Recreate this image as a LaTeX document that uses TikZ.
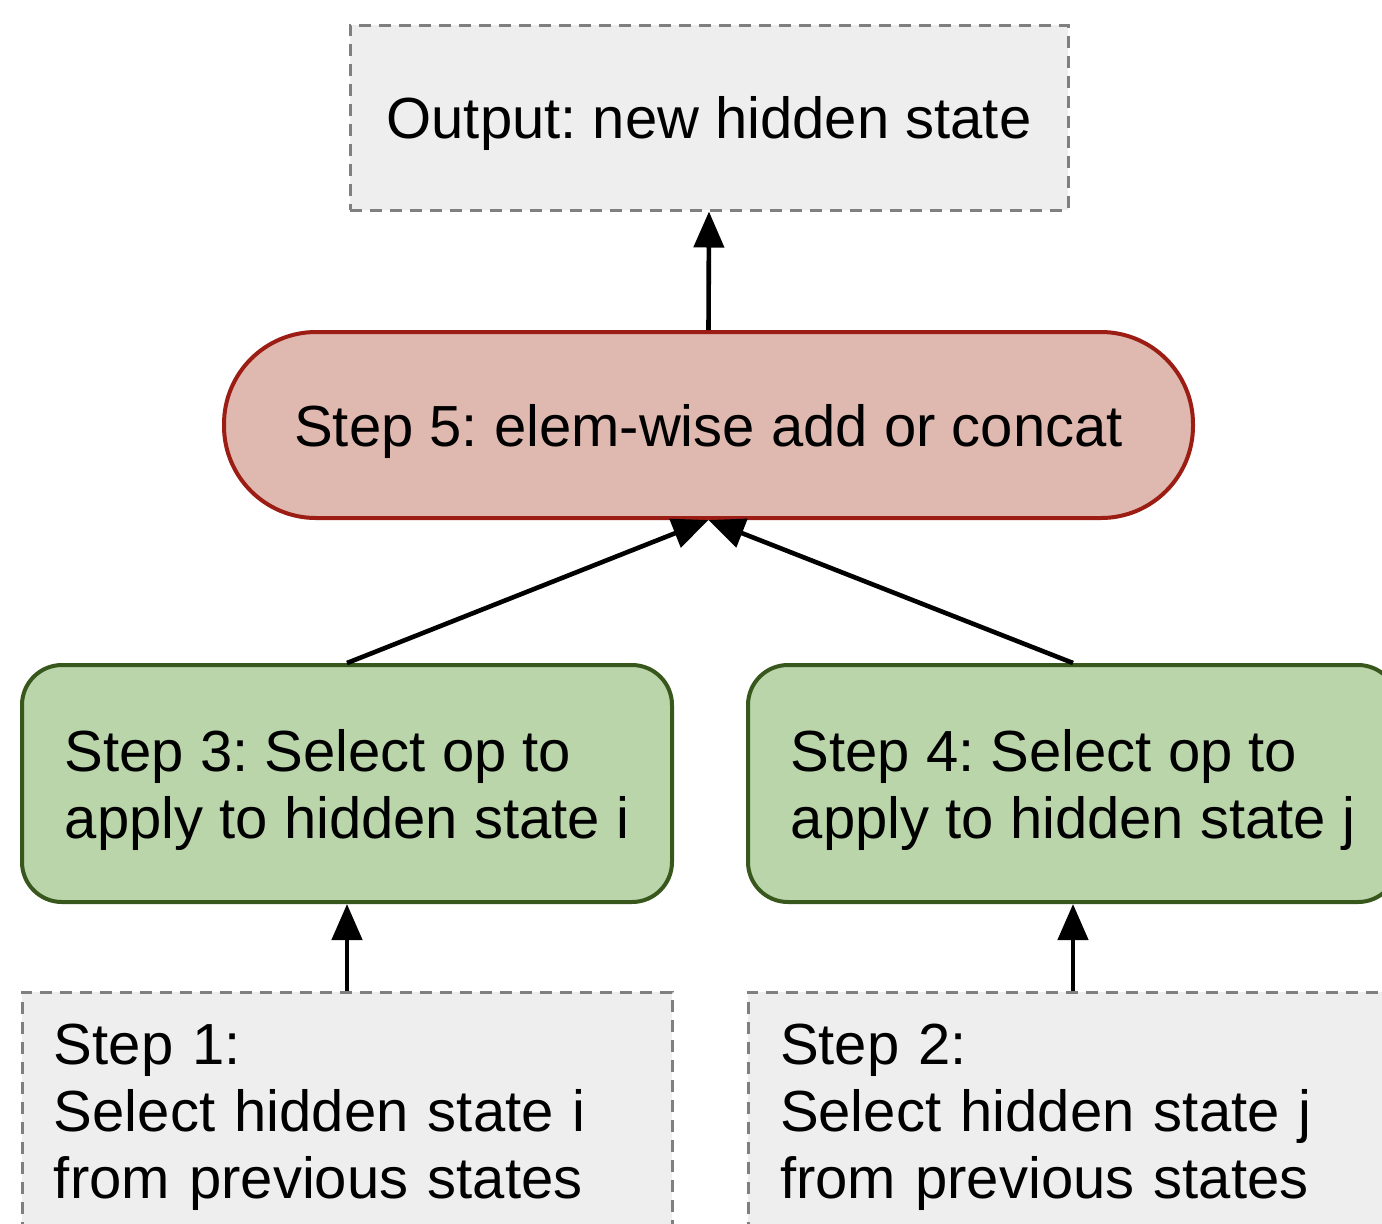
\documentclass[tikz,border=0pt]{standalone}
\usepackage{fontspec}
\setmainfont{Liberation Sans}
\usetikzlibrary{arrows.meta}

\definecolor{grayfill}{HTML}{EEEEEE}
\definecolor{grayline}{HTML}{7F7F7F}
\definecolor{redfill}{HTML}{DFB8AF}
\definecolor{redline}{HTML}{9B1D14}
\definecolor{greenfill}{HTML}{B9D5A9}
\definecolor{greenline}{HTML}{38571C}

\tikzset{
  every node/.style={font=\fontsize{29}{33.5}\selectfont\frenchspacing,
    text=black},
  dashbox/.style={draw=grayline, fill=grayfill, line width=1.5pt,
    dash pattern=on 6pt off 4pt, rectangle, inner sep=0pt},
  addbox/.style={draw=redline, fill=redfill, line width=2pt,
    rectangle, rounded corners=46pt, inner sep=0pt, text depth=0pt},
  opbox/.style={draw=greenline, fill=greenfill, line width=2pt,
    rectangle, rounded corners=20pt, inner sep=0pt, text depth=0pt,
    minimum width=325pt, minimum height=118.5pt, align=left},
  statebox/.style={dashbox, minimum height=125pt, inner xsep=16pt,
    text width=293pt, align=left},
  flow/.style={line width=2.3pt, -{Triangle[length=18pt,width=15pt]}},
}

\begin{document}
\begin{tikzpicture}[x=0.5pt, y=-0.5pt]
  \useasboundingbox (0,0) rectangle (1382,1223);
  \clip (0,0) rectangle (1382,1223);

  % output and combine
  \node[dashbox, text depth=0pt, minimum width=359pt, minimum height=92.5pt]
    (out) at (709,117.5) {Output: new hidden state};
  \node[addbox, minimum width=484.5pt, minimum height=93pt]
    (add) at (708.5,425) {Step 5: elem-wise add or concat};

  % operation selection
  \node[opbox] (opi) at (347,783.5)
    {Step 3: Select op to\\apply to hidden state i};
  \node[opbox] (opj) at (1073,783.5)
    {Step 4: Select op to\\apply to hidden state j};

  % hidden state selection
  \node[statebox] (hi) at (347,1117)
    {Step 1:\\Select hidden state i\\from previous states};
  \node[statebox] (hj) at (1073,1117)
    {Step 2:\\Select hidden state j\\from previous states};

  % connectors
  \draw[flow] (add.north) -- (out.south);
  \draw[flow] (opi.north) -- (add.south);
  \draw[flow] (opj.north) -- (add.south);
  \draw[flow] (hi.north) -- (opi.south);
  \draw[flow] (hj.north) -- (opj.south);
\end{tikzpicture}
\end{document}
